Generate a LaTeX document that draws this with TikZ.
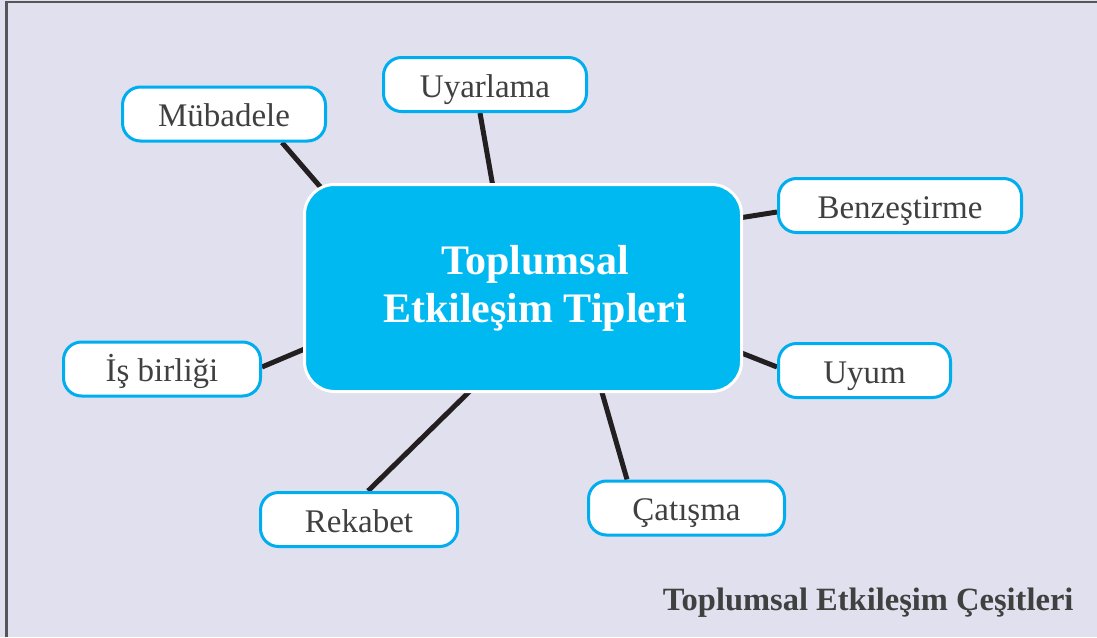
\documentclass[tikz,border=0pt]{standalone}
\usepackage{fontspec}
\setmainfont{Liberation Serif}
\usetikzlibrary{calc}
\definecolor{bgpaper}{RGB}{224,224,238}
\definecolor{mapcyan}{RGB}{0,185,240}
\definecolor{boxline}{RGB}{0,174,239}
\definecolor{inkgray}{RGB}{64,64,64}
\definecolor{linkblack}{RGB}{35,31,32}
\definecolor{frame}{RGB}{85,85,90}
\pgfdeclarelayer{paper}
\pgfdeclarelayer{edges}
\pgfsetlayers{paper,edges,main}
\begin{document}
\begin{tikzpicture}
    [
    x=1pt,y=-1pt,
    hub/.style={draw=white,line width=3pt,fill=mapcyan,rounded corners=30pt,minimum width=437pt,minimum height=207pt},
    hubtext/.style={text=white,font=\bfseries\fontsize{42}{48}\selectfont,align=center},
    kind/.style={draw=boxline,line width=3pt,fill=white,rounded corners=18pt,minimum height=54pt,text height=25pt,text depth=0pt,text=inkgray,font=\fontsize{33}{38}\selectfont},
    link/.style={draw=linkblack,line width=5pt}
    ]
    \useasboundingbox (0,0) rectangle (1097,637);
    \begin{pgfonlayer}{paper}
      \fill [bgpaper] (0,0) rectangle (1097,637);
      \draw [frame,line width=2.5pt] (6.5,637) -- (6.5,2) -- (1097,2);
    \end{pgfonlayer}

    \node (cen) at (523,288) [hub] {};
    \node (title) at ($(cen)+(12,0)$) [hubtext] {Toplumsal\\Etkileşim Tipleri};
    \node (mub) at (224,114) [kind,minimum width=203pt] {Mübadele};
    \node (uya) at (485,84.5) [kind,minimum width=203pt] {Uyarlama};
    \node (ben) at (900,205.5) [kind,minimum width=243pt] {Benzeştirme};
    \node (uyu) at (864.5,370.5) [kind,minimum width=172pt] {Uyum};
    \node (cat) at (686.5,508) [kind,minimum width=196pt] {Çatışma};
    \node (rek) at (359,519.5) [kind,minimum width=197pt] {Rekabet};
    \node (isb) at (162,369) [kind,minimum width=197pt] {İş birliği};
    \node (cap) at (1077,610) [anchor=base east,text=inkgray,font=\bfseries\fontsize{32.5}{38}\selectfont] {Toplumsal Etkileşim Çeşitleri};

    % connectors behind the boxes
    \begin{pgfonlayer}{edges}
      \draw [link] ($(mub.south)+(58,0)$) -- ($(cen.north west)+(20,7)$);
      \draw [link] ($(uya.south)+(-5,0)$) -- ($(cen.north)+(-30,4)$);
      \draw [link] ($(ben.west)+(0,6.5)$) -- ($(cen.north east)+(-4,35)$);
      \draw [link] ($(uyu.west)+(0,-3.5)$) -- ($(cen.east)+(-4,64)$);
      \draw [link] ($(cat.north)+(-59.5,0)$) -- ($(cen.south)+(78,-4)$);
      \draw [link] ($(rek.north)+(9,0)$) -- ($(cen.south)+(-51,-4)$);
      \draw [link] ($(isb.east)+(0,-2)$) -- ($(cen.west)+(4,60)$);
    \end{pgfonlayer}
\end{tikzpicture}
\end{document}
